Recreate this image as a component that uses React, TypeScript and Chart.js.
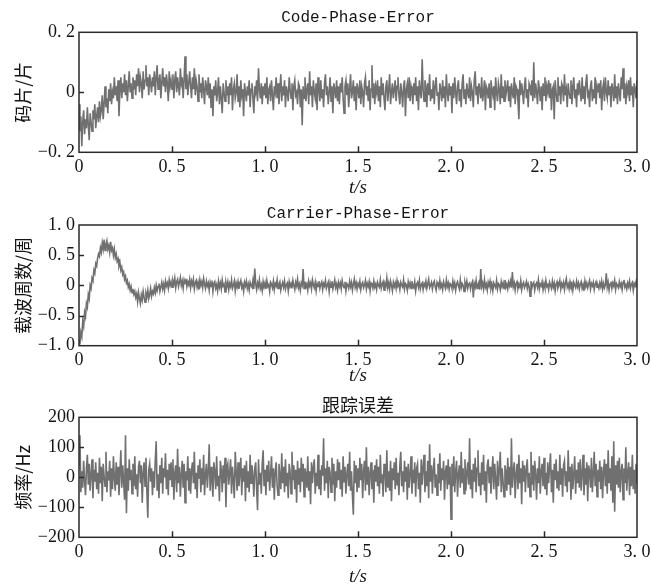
import { useEffect, useRef } from "react";
import { Chart, registerables } from "chart.js";

Chart.register(...registerables);

// sampling step of the recorded series (s)
const DT = 0.005;

// Code-Phase-Error (chips), t = 0 .. 3.0 s, one row per 0.1 s
const codePhaseError = [
  -0.04, -0.13, -0.08, -0.18, -0.1, -0.06, -0.14, -0.09, -0.12, -0.05, -0.11, -0.16, -0.07, -0.1, -0.13, -0.06, -0.09, -0.04, -0.12, -0.08,
  -0.05, -0.1, -0.03, -0.08, -0.06, -0.01, -0.09, -0.04, 0.02, -0.05, -0.02, -0.07, 0.01, -0.03, 0.03, -0.04, 0.0, -0.02, 0.05, -0.01,
  0.02, -0.03, 0.04, -0.08, 0.01, 0.05, -0.02, 0.03, 0.0, 0.06, -0.01, 0.04, -0.03, 0.02, 0.07, 0.0, 0.03, -0.02, 0.05, 0.01,
  0.04, -0.01, 0.06, 0.02, 0.08, 0.0, 0.05, 0.03, -0.02, 0.07, 0.01, 0.04, 0.09, 0.02, 0.05, -0.01, 0.06, 0.03, 0.0, 0.05,
  0.02, 0.07, -0.01, 0.05, 0.09, 0.01, 0.04, 0.06, -0.02, 0.03, 0.08, 0.02, 0.05, 0.0, 0.06, 0.03, -0.03, 0.07, 0.02, 0.04,
  0.01, 0.06, -0.02, 0.04, 0.07, 0.0, 0.05, 0.02, -0.01, 0.08, 0.03, 0.05, -0.02, 0.04, 0.12, 0.01, 0.06, -0.01, 0.03, 0.07,
  0.02, -0.02, 0.05, 0.01, 0.08, -0.01, 0.04, 0.02, -0.03, 0.06, 0.0, 0.03, -0.02, 0.05, 0.01, -0.04, 0.04, 0.02, -0.01, 0.05,
  -0.02, 0.03, -0.05, 0.01, -0.08, 0.02, -0.01, 0.04, -0.03, 0.0, 0.05, -0.04, 0.02, -0.02, -0.07, 0.03, 0.0, -0.03, 0.04, -0.01,
  0.02, -0.04, 0.03, -0.01, 0.05, -0.06, 0.01, 0.03, -0.02, 0.0, 0.06, -0.03, 0.02, -0.05, 0.04, -0.01, 0.01, -0.08, 0.03, 0.0,
  -0.03, 0.02, -0.01, 0.04, -0.05, 0.01, 0.03, -0.02, -0.07, 0.02, 0.0, 0.04, -0.03, 0.08, 0.01, -0.02, 0.03, -0.04, 0.02, -0.01,
  0.03, -0.02, 0.05, -0.04, 0.01, 0.02, -0.03, 0.04, -0.01, -0.06, 0.02, 0.0, 0.05, -0.02, 0.03, -0.04, 0.01, 0.06, -0.03, 0.02,
  -0.01, 0.04, -0.05, 0.02, 0.0, -0.03, 0.05, 0.01, -0.02, 0.03, -0.06, 0.02, 0.04, -0.01, 0.0, -0.04, 0.03, 0.02, -0.05, 0.01,
  -0.11, 0.02, -0.02, 0.05, -0.03, 0.01, 0.03, -0.04, 0.07, -0.01, 0.02, -0.05, 0.04, 0.0, -0.02, 0.03, -0.06, 0.05, 0.01, -0.03,
  0.04, -0.02, 0.01, -0.05, 0.03, 0.06, -0.01, 0.02, -0.04, 0.0, 0.05, -0.03, 0.02, -0.07, 0.03, 0.01, -0.02, 0.04, -0.03, 0.02,
  -0.04, 0.03, 0.0, 0.05, -0.02, -0.07, 0.02, 0.04, -0.01, 0.03, -0.05, 0.01, 0.06, -0.02, 0.0, 0.04, -0.03, 0.02, -0.06, 0.03,
  0.01, -0.02, 0.04, -0.04, 0.02, 0.0, -0.05, 0.03, 0.05, -0.01, 0.02, -0.03, 0.04, -0.06, 0.01, 0.09, -0.02, 0.03, -0.04, 0.02,
  0.0, 0.04, -0.03, 0.02, -0.05, 0.05, -0.01, 0.03, -0.02, -0.06, 0.02, 0.04, -0.03, 0.01, 0.06, -0.04, 0.0, 0.03, -0.02, 0.01,
  0.04, -0.03, 0.02, 0.05, -0.01, -0.04, 0.03, 0.0, -0.05, 0.02, 0.04, -0.08, 0.01, 0.03, -0.02, 0.05, -0.03, 0.02, 0.0, -0.04,
  0.03, -0.01, 0.05, -0.03, 0.02, -0.06, 0.04, 0.0, -0.02, 0.11, 0.01, -0.03, 0.04, 0.02, -0.05, 0.03, -0.01, 0.06, -0.03, 0.01,
  -0.02, 0.04, -0.04, 0.02, 0.05, -0.01, 0.0, -0.06, 0.03, 0.01, -0.03, 0.04, -0.02, 0.02, -0.05, 0.06, 0.0, -0.03, 0.03, -0.01,
  0.02, -0.07, 0.03, -0.02, 0.05, 0.0, -0.04, 0.02, 0.04, -0.03, 0.01, -0.05, 0.03, 0.06, -0.02, 0.01, -0.04, 0.03, 0.0, -0.02,
  0.05, -0.03, 0.02, 0.0, -0.05, 0.04, 0.07, -0.01, 0.02, -0.04, 0.03, 0.01, -0.02, 0.05, -0.03, 0.0, 0.04, -0.06, 0.02, 0.01,
  -0.02, 0.03, -0.05, 0.04, 0.01, -0.01, 0.02, -0.06, 0.05, 0.0, -0.03, 0.03, 0.01, -0.04, 0.06, -0.02, 0.02, -0.03, 0.04, -0.01,
  0.01, 0.04, -0.03, 0.02, -0.05, 0.03, 0.0, -0.02, 0.05, -0.04, 0.02, 0.01, -0.03, -0.09, 0.04, -0.01, 0.03, 0.0, -0.04, 0.02,
  0.05, -0.02, 0.01, -0.05, 0.03, 0.02, -0.01, 0.04, -0.03, 0.1, -0.02, 0.03, 0.0, -0.04, 0.04, 0.01, -0.03, 0.02, -0.06, 0.03,
  -0.01, 0.05, -0.03, 0.02, 0.0, 0.04, -0.02, 0.03, -0.06, 0.01, 0.02, -0.09, 0.04, 0.0, -0.03, 0.05, -0.01, 0.02, -0.04, 0.03,
  0.02, -0.03, 0.06, -0.01, 0.01, -0.05, 0.03, 0.0, -0.02, 0.04, -0.04, 0.02, 0.05, -0.02, 0.01, -0.05, 0.03, -0.01, 0.04, 0.0,
  -0.03, 0.05, -0.02, 0.02, -0.04, 0.03, 0.06, -0.01, 0.0, -0.05, 0.02, 0.04, -0.03, 0.01, -0.02, 0.05, -0.04, 0.02, 0.0, 0.03,
  -0.02, 0.04, -0.06, 0.01, 0.03, -0.03, 0.05, 0.0, -0.02, 0.04, -0.01, 0.02, -0.05, 0.03, 0.01, -0.03, 0.06, -0.02, 0.02, -0.04,
  0.03, 0.0, -0.03, 0.05, 0.01, 0.08, -0.02, 0.03, -0.04, 0.02, 0.0, 0.04, -0.03, 0.05, -0.01, 0.02, -0.05, 0.03, 0.01, -0.02,
  0.04,
];

// Carrier-Phase-Error (cycles)
const carrierPhaseError = [
  -0.9, -0.98, -0.78, -0.85, -0.6, -0.68, -0.45, -0.52, -0.3, -0.36, -0.15, -0.22, 0.0, -0.05, 0.12, 0.08, 0.25, 0.2, 0.36, 0.32,
  0.45, 0.52, 0.48, 0.62, 0.55, 0.7, 0.6, 0.76, 0.58, 0.68, 0.74, 0.6, 0.66, 0.55, 0.72, 0.58, 0.62, 0.5, 0.6, 0.46,
  0.52, 0.4, 0.44, 0.32, 0.38, 0.25, 0.3, 0.18, 0.22, 0.1, 0.15, 0.04, 0.08, -0.03, 0.02, -0.08, -0.02, -0.12, -0.06, -0.15,
  -0.1, -0.2, -0.14, -0.27, -0.12, -0.22, -0.3, -0.16, -0.24, -0.1, -0.2, -0.28, -0.13, -0.19, -0.08, -0.22, -0.15, -0.05, -0.18, -0.1,
  -0.14, -0.04, -0.12, 0.0, -0.09, -0.02, 0.03, -0.1, -0.03, 0.05, -0.06, 0.02, -0.08, 0.07, -0.01, 0.04, -0.05, 0.09, 0.0, 0.06,
  -0.03, 0.08, 0.02, 0.12, -0.04, 0.06, 0.1, -0.02, 0.05, 0.13, 0.0, 0.07, -0.05, 0.09, 0.03, 0.11, -0.02, 0.06, 0.01, 0.1,
  -0.04, 0.07, 0.01, 0.1, -0.06, 0.04, 0.08, -0.03, 0.05, -0.07, 0.09, 0.0, 0.06, -0.04, 0.11, 0.02, -0.05, 0.07, -0.01, 0.04,
  -0.08, 0.05, -0.02, 0.08, -0.1, 0.03, 0.06, -0.05, 0.01, -0.09, 0.07, -0.03, 0.04, -0.06, 0.09, -0.01, 0.02, -0.11, 0.05, -0.02,
  0.06, -0.07, 0.03, -0.02, 0.09, -0.05, 0.0, 0.07, -0.09, 0.04, -0.03, 0.06, -0.06, 0.02, 0.08, -0.04, 0.01, -0.1, 0.05, -0.01,
  0.07, -0.05, 0.02, -0.08, 0.05, 0.0, -0.03, 0.08, -0.06, 0.28, 0.03, -0.07, 0.04, -0.02, 0.09, -0.05, 0.01, -0.09, 0.06, -0.03,
  0.04, -0.06, 0.08, -0.02, 0.01, -0.1, 0.05, 0.02, -0.04, 0.07, -0.07, 0.03, -0.01, 0.09, -0.05, 0.02, 0.06, -0.08, 0.0, 0.05,
  -0.03, 0.07, -0.06, 0.01, 0.04, -0.09, 0.06, -0.02, 0.03, -0.05, 0.08, 0.0, -0.07, 0.05, -0.01, 0.1, -0.04, 0.02, -0.08, 0.04,
  0.0, 0.27, -0.05, 0.06, -0.03, 0.02, -0.08, 0.07, -0.01, 0.04, -0.06, 0.09, 0.01, -0.04, 0.05, -0.09, 0.03, -0.02, 0.07, -0.05,
  0.02, 0.06, -0.07, 0.03, -0.01, 0.08, -0.05, 0.0, 0.05, -0.1, 0.04, -0.03, 0.07, -0.06, 0.01, 0.09, -0.04, 0.02, -0.08, 0.05,
  -0.02, 0.04, -0.06, 0.08, 0.0, -0.04, 0.06, -0.09, 0.03, 0.01, -0.05, 0.07, -0.02, 0.05, -0.08, 0.02, 0.1, -0.03, 0.04, -0.06,
  0.03, -0.01, 0.07, -0.07, 0.02, 0.05, -0.04, 0.0, 0.08, -0.06, 0.03, -0.02, 0.06, -0.09, 0.04, 0.01, -0.05, 0.07, -0.03, 0.02,
  -0.07, 0.05, 0.0, -0.03, 0.09, -0.05, 0.02, 0.06, -0.08, 0.03, -0.01, 0.12, -0.04, 0.04, -0.06, 0.07, 0.0, -0.09, 0.05, -0.02,
  0.04, -0.05, 0.08, -0.01, 0.02, -0.07, 0.05, 0.0, -0.03, 0.09, -0.06, 0.03, 0.01, -0.08, 0.06, -0.02, 0.04, -0.05, 0.07, -0.01,
  -0.04, 0.06, -0.09, 0.02, 0.05, -0.03, 0.08, -0.06, 0.01, 0.04, -0.07, 0.03, -0.01, 0.07, -0.05, 0.02, 0.1, -0.04, 0.0, 0.05,
  -0.06, 0.03, 0.07, -0.02, -0.08, 0.05, 0.01, -0.04, 0.08, -0.03, 0.02, -0.07, 0.06, 0.0, -0.05, 0.09, -0.02, 0.04, -0.06, 0.03,
  0.01, -0.05, 0.07, -0.03, 0.04, -0.08, 0.02, 0.06, -0.01, -0.06, 0.09, -0.04, 0.03, 0.0, -0.1, 0.05, -0.02, 0.07, -0.05, 0.02,
  0.04, -0.06, 0.02, 0.06, -0.2, 0.03, -0.03, 0.08, -0.05, 0.01, 0.05, -0.07, 0.27, -0.02, 0.04, -0.06, 0.09, -0.03, 0.02, -0.08,
  0.05, -0.01, 0.07, -0.05, 0.02, -0.09, 0.04, 0.0, -0.04, 0.08, -0.06, 0.03, 0.01, -0.07, 0.06, -0.02, 0.04, -0.05, 0.09, -0.03,
  0.02, -0.06, 0.05, -0.01, 0.07, -0.04, 0.22, -0.02, 0.04, -0.08, 0.03, 0.06, -0.05, 0.01, -0.03, 0.08, -0.07, 0.02, 0.05, -0.04,
  0.0, 0.06, -0.05, 0.03, -0.02, -0.18, 0.07, -0.04, 0.02, 0.05, -0.08, 0.01, 0.04, -0.03, 0.09, -0.06, 0.02, -0.01, 0.06, -0.07,
  0.03, -0.04, 0.08, -0.02, 0.01, -0.07, 0.05, 0.0, -0.05, 0.07, -0.03, 0.04, -0.09, 0.02, 0.06, -0.04, 0.01, 0.08, -0.06, 0.03,
  -0.02, 0.05, -0.07, 0.04, 0.11, -0.03, 0.02, -0.06, 0.06, -0.01, 0.03, -0.08, 0.05, 0.0, -0.04, 0.07, -0.02, 0.04, -0.06, 0.02,
  0.06, -0.05, 0.01, -0.09, 0.07, -0.02, 0.04, -0.04, 0.02, 0.08, -0.06, 0.03, -0.01, 0.05, -0.07, 0.02, 0.06, -0.03, 0.0, -0.05,
  0.04, -0.02, 0.07, -0.06, 0.03, -0.04, 0.01, 0.2, -0.03, 0.05, -0.08, 0.02, 0.06, -0.05, 0.04, -0.01, 0.08, -0.07, 0.03, 0.0,
  -0.04, 0.06, -0.02, 0.03, -0.07, 0.05, 0.09, -0.03, 0.01, -0.06, 0.04, -0.02, 0.07, -0.05, 0.02, 0.05, -0.08, 0.03, -0.01, 0.06,
  -0.03,
];

// 跟踪误差 (Hz)
const trackingError = [
  40, 140, -50, 20, -35, 55, -10, -60, 30, 75, -25, 45, -45, 10, 60, -70, 25, -15, 50, -40,
  15, -55, 65, -20, 35, -80, 45, 5, -30, 85, -50, 20, -10, 55, -65, 30, -40, 70, 0, -45,
  50, -25, 35, -60, 15, 90, -35, 40, -15, -75, 140, -120, 30, -45, 60, -10, 25, -55, 45, -30,
  70, -40, 10, -65, 35, 55, -20, 40, -85, 15, 50, -30, 65, -50, -135, 25, 45, -15, 30, -60,
  20, -35, 55, 120, -45, 10, -70, 40, -20, 65, -55, 30, 0, 80, -40, 25, -60, 45, -10, 50,
  -30, 60, -75, 15, 40, -50, 95, -20, 35, -65, 10, 55, -35, 45, -85, 20, -10, 70, -45, 30,
  -55, 25, 50, -20, 85, -40, 15, -70, 40, -5, 60, -50, 30, -25, 75, -60, 10, 45, -35, 20,
  110, -45, 35, -15, -65, 50, 20, -40, 70, -30, 5, -80, 55, 25, -50, 40, -20, 65, -100, 30,
  45, -25, 15, 60, -55, 35, -10, -70, 85, 20, -45, 50, -30, 10, 65, -60, 30, -15, 40, -80,
  55, -35, 20, -50, 75, -20, 40, 5, -65, 30, 50, -40, -110, 60, -25, 15, -55, 45, 90, -30,
  25, -60, 40, -15, 55, -45, 10, 70, -35, 30, -75, 20, 50, -25, -60, 45, 5, -40, 80, -20,
  35, -50, 60, -30, 15, -70, 45, 20, -55, 85, -10, 40, -40, 25, -85, 55, -25, 30, -50, 65,
  -15, 45, -65, 30, 10, -35, 70, -45, 20, -90, 50, -20, 35, 60, -55, 15, -30, 75, -40, 25,
  -60, 40, 5, 130, -45, 30, -20, 55, -70, 35, 15, -50, 65, -25, 45, -80, 20, -35, 60, -10,
  50, -40, 25, -65, 70, -15, 35, -55, 10, 45, -30, 85, -45, 20, -60, -125, 55, -20, 40, -50,
  30, -35, 65, -10, 45, -70, 20, 55, -45, 100, -25, 35, -60, 15, 50, -40, 25, -85, 40, -15,
  60, -30, 35, -55, 75, -20, 10, -65, 45, 25, -50, 90, -35, 20, -45, 55, -80, 30, -10, 50,
  -40, 65, -25, 15, -60, 40, 85, -30, 20, -50, 55, -15, 35, -75, 45, -35, 10, 70, -55, 25,
  -20, 50, -65, 30, 45, -40, 15, -85, 60, -25, 35, 75, -50, 20, -30, 55, -70, 110, -15, 40,
  -55, 25, 65, -35, 10, -60, 45, -20, 80, -45, 30, -10, 55, -75, 20, 40, -40, 60, -25, 35,
  -140, 45, -30, 70, -50, 20, 55, -65, 10, 40, -35, 85, -20, 30, -55, 60, -45, 15, 50, -25,
  130, -40, 25, -70, 45, -15, 65, -50, 30, 90, -30, 15, -60, 50, -25, 75, -45, 20, -85, 40,
  60, -20, 35, -55, 15, 70, -40, 45, -10, -75, 55, -30, 25, 85, -50, 30, -15, -65, 40, 20,
  -45, 65, -25, 35, -60, 130, -35, 20, 50, -70, 10, 45, -40, 75, -20, 30, -90, 55, -15, 40,
  -50, 25, 60, -35, 15, -65, 85, -25, 40, -45, 55, 10, -75, 30, -20, 70, -55, 20, 45, -30,
  65, -40, 15, -60, 50, -20, 35, 80, -50, 25, -85, 45, -10, 60, -35, 20, -45, 75, -25, 30,
  -65, 40, 55, -30, 20, -50, 90, -15, 35, -75, 45, -40, 10, 70, -55, 25, -20, 50, -35, 60,
  -45, 15, 75, -60, 30, -25, 50, -80, 40, 20, -35, 65, -50, 10, 85, -30, 45, -65, 25, -15,
  55, -40, 35, -70, 20, 60, -30, 45, -55, 90, -20, 30, -45, 70, -85, 120, -115, 40, -25, 55,
  -35, 65, -50, 20, 45, -75, 30, -20, 100, -45, 15, 50, -60, 35, -30, 75, -40, 25, -55, 45,
  -20,
];

const X_MIN = 0;
const X_MAX = 3;
const X_STEP = 0.5;
const X_TITLE = "t/s";

const TEXT = "#141414";
const LINE = "#707070";
const MONO = "'Liberation Mono', monospace";
const SERIF = "'Liberation Serif', serif";
const CJK = "'Noto Sans CJK SC', sans-serif";

// tick text as printed in the figure: "0. 5", "−0. 2", "−100"
const fmt = (v: number) => {
  if (v === 0) return "0";
  const s = Math.abs(v) >= 10 ? String(Math.abs(v)) : Math.abs(v).toFixed(1).replace(".", ". ");
  return (v < 0 ? "\u2212" : "") + s;
};

const framePlugin = {
  id: "frame",
  afterDatasetsDraw(chart: any) {
    const { ctx, chartArea: a, scales } = chart;
    const x = scales.x;
    const y = scales.y;
    ctx.save();
    ctx.strokeStyle = "#2a2a2a";
    ctx.lineWidth = 1.5;
    ctx.strokeRect(a.left, a.top, a.right - a.left, a.bottom - a.top);
    x.ticks.forEach((t: any) => {
      if (t.value > x.min && t.value < x.max) {
        const px = Math.round(x.getPixelForValue(t.value)) + 0.5;
        ctx.beginPath();
        ctx.moveTo(px, a.bottom);
        ctx.lineTo(px, a.bottom - 6);
        ctx.stroke();
      }
    });
    y.ticks.forEach((t: any) => {
      if (t.value > y.min && t.value < y.max) {
        const py = Math.round(y.getPixelForValue(t.value)) + 0.5;
        ctx.beginPath();
        ctx.moveTo(a.left, py);
        ctx.lineTo(a.left + 5, py);
        ctx.stroke();
      }
    });
    ctx.restore();
  },
};

type PanelProps = {
  values: number[];
  title: string;
  titleFont: any;
  titlePad: { top: number; bottom: number };
  yTitle: string;
  yMin: number;
  yMax: number;
  yStep: number;
  top: number;
  height: number;
  xAxisHeight: number;
  xTitlePadBottom: number;
};

function Panel(p: PanelProps) {
  const ref = useRef<HTMLCanvasElement | null>(null);
  useEffect(() => {
    if (!ref.current) return;
    const data = p.values.map((v, i) => ({ x: i * DT, y: v }));
    const chart = new Chart(ref.current, {
      type: "line",
      data: {
        datasets: [
          {
            data,
            borderColor: LINE,
            borderWidth: 1.6,
            pointRadius: 0,
            tension: 0,
            fill: false,
          },
        ],
      },
      options: {
        animation: false,
        responsive: false,
        maintainAspectRatio: false,
        layout: { padding: { left: 0, right: 14, top: 0, bottom: 0 } },
        plugins: {
          legend: { display: false },
          tooltip: { enabled: false },
          title: {
            display: true,
            fullSize: false,
            text: p.title,
            color: TEXT,
            font: p.titleFont,
            padding: p.titlePad,
          },
        },
        scales: {
          x: {
            type: "linear",
            min: X_MIN,
            max: X_MAX,
            grid: { display: false, drawTicks: false },
            border: { display: false },
            ticks: {
              stepSize: X_STEP,
              color: TEXT,
              padding: 4,
              maxRotation: 0,
              font: { family: SERIF, size: 18 },
              callback: (v: any) => fmt(Number(v)),
            },
            title: {
              display: true,
              text: X_TITLE,
              color: TEXT,
              font: { family: SERIF, size: 19, style: "italic" },
              padding: { top: 0, bottom: p.xTitlePadBottom },
            },
            afterFit: (s: any) => {
              s.height = p.xAxisHeight;
              s.paddingLeft = 0;
              s.paddingRight = 0;
            },
          },
          y: {
            min: p.yMin,
            max: p.yMax,
            grid: { display: false, drawTicks: false },
            border: { display: false },
            ticks: {
              stepSize: p.yStep,
              color: TEXT,
              padding: 4,
              font: { family: SERIF, size: 18 },
              callback: (v: any) => fmt(Number(v)),
            },
            title: {
              display: true,
              text: p.yTitle,
              color: TEXT,
              font: { family: CJK, size: 18 },
              padding: { top: 12.7, bottom: 0 },
            },
            afterFit: (s: any) => {
              s.width = 79;
              s.paddingTop = 0;
              s.paddingBottom = 0;
            },
          },
        },
      },
      plugins: [framePlugin],
    } as any);
    return () => chart.destroy();
  }, []);
  return (
    <canvas
      ref={ref}
      width={651}
      height={p.height}
      style={{ position: "absolute", left: 0, top: p.top, width: 651, height: p.height }}
    />
  );
}

export default function App() {
  return (
    <div
      style={{
        position: "absolute",
        left: 0,
        top: 0,
        width: 651,
        height: 585,
        overflow: "hidden",
        background: "#ffffff",
      }}
    >
      <Panel
        values={codePhaseError}
        title="Code-Phase-Error"
        titleFont={{ family: MONO, size: 16, weight: "normal" }}
        titlePad={{ top: 8.4, bottom: 4.7 }}
        yTitle="码片/片"
        yMin={-0.2}
        yMax={0.2}
        yStep={0.2}
        top={0}
        height={200}
        xAxisHeight={47.7}
        xTitlePadBottom={0.6}
      />
      <Panel
        values={carrierPhaseError}
        title="Carrier-Phase-Error"
        titleFont={{ family: MONO, size: 16, weight: "normal" }}
        titlePad={{ top: 6.9, bottom: 1.9 }}
        yTitle="载波周数/周"
        yMin={-1}
        yMax={1}
        yStep={0.5}
        top={197}
        height={192}
        xAxisHeight={43.3}
        xTitlePadBottom={1.6}
      />
      <Panel
        values={trackingError}
        title="跟踪误差"
        titleFont={{ family: CJK, size: 18, weight: "normal" }}
        titlePad={{ top: 9.2, bottom: 1.5 }}
        yTitle="频率/Hz"
        yMin={-200}
        yMax={200}
        yStep={100}
        top={385}
        height={200}
        xAxisHeight={47.7}
        xTitlePadBottom={-3.4}
      />
    </div>
  );
}
